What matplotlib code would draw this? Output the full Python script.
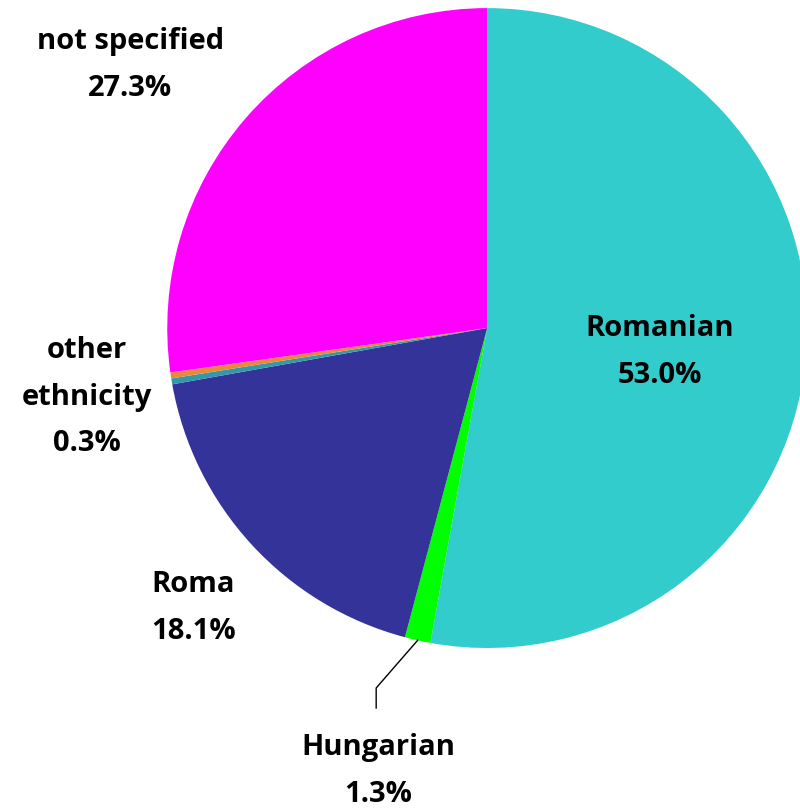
import numpy as np
import matplotlib.pyplot as plt

# === DATOS ===
labels = ["Romanian", "Hungarian", "Roma", "other\nethnicity", "", "not specified"]
values = [53.0, 1.3, 18.1, 0.3, 0.3, 27.3]
pct_text = ["53.0%", "1.3%", "18.1%", "0.3%", "", "27.3%"]
colors = ["#33CCCC", "#00FF00", "#333399", "#3399AA", "#E8883A", "#FF00FF"]

plt.rcParams["font.family"] = ["Open Sans", "DejaVu Sans"]

fig = plt.figure(figsize=(8, 8.1), dpi=100)
ax = fig.add_axes([0.209, 0.2, 0.8, 0.79])

wedges, _ = ax.pie(values, colors=colors, startangle=90, counterclock=False,
                   radius=1, wedgeprops=dict(linewidth=0))
ax.set_xlim(-1, 1)
ax.set_ylim(-1, 1)
ax.set_aspect("equal")
ax.axis("off")

# posiciones de las etiquetas (coordenadas de datos)
label_pos = {
    0: (0.54, -0.075),
    1: (-0.34, -1.384),
    2: (-0.919, -0.875),
    3: (-1.25, -0.216),
    5: (-1.116, 0.822),
}
for i, (x, y) in label_pos.items():
    ax.text(x, y, f"{labels[i]}\n{pct_text[i]}", ha="center", va="center",
            fontsize=21, fontweight="bold", linespacing=1.8, clip_on=False)

# línea guía para Hungarian
w = wedges[1]
mid = np.deg2rad((w.theta1 + w.theta2) / 2)
x0, y0 = np.cos(mid), np.sin(mid)
ax.plot([x0, -0.347, -0.347], [y0, -1.125, -1.1875], color="black",
        linewidth=1, clip_on=False)

fig.savefig("out.png", dpi=100)
